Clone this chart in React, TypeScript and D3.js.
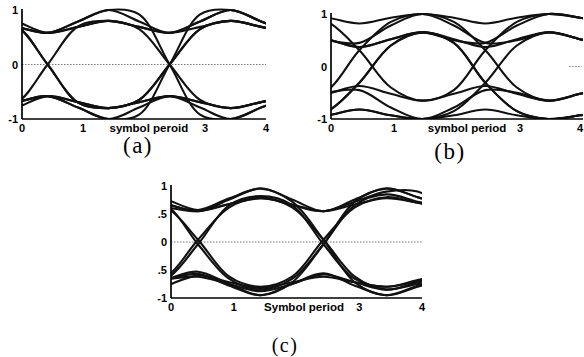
import * as d3 from 'd3'

// sample times (symbol periods) for each eye diagram
const timesA = [-0.58, -0.08, 0.42, 0.92, 1.42, 1.92, 2.42, 2.92, 3.42, 3.92, 4.42]
const timesB = [-0.55, -0.05, 0.45, 0.95, 1.45, 1.95, 2.45, 2.95, 3.45, 3.95, 4.45]
const timesC = [-0.57, -0.07, 0.43, 0.93, 1.43, 1.93, 2.43, 2.93, 3.43, 3.93, 4.43]

// traced amplitudes
const tracesA = [
  [0.8, 0.69, 0.58, 0.79, 1, 0.79, 0.58, 0.79, 1, 0.79, 0.58],
  [1, 0.79, 0.58, 0.69, 0.8, 0.69, 0.58, 0.69, 0.8, 0.69, 0.58],
  [0.8, 0.7, 0, -0.7, -0.8, -0.65, 0, 0.65, 0.8, 0.69, 0.58],
  [-0.8, -0.7, 0, 0.7, 0.8, 0.69, 0.58, 0.79, 1, 0.79, 0.58],
  [0.8, 0.69, 0.58, 0.79, 1, 0.92, 0, -0.92, -1, -0.79, -0.58],
  [-0.8, -0.69, -0.58, -0.79, -1, -0.92, 0, 0.92, 1, 0.79, 0.58],
  [-0.8, -0.69, -0.58, -0.79, -1, -0.79, -0.58, -0.79, -1, -0.79, -0.58],
  [-1, -0.79, -0.58, -0.69, -0.8, -0.69, -0.58, -0.69, -0.8, -0.69, -0.58],
  [0.8, 0.7, 0, -0.7, -0.8, -0.69, -0.58, -0.69, -0.8, -0.69, -0.58],
  [-0.8, -0.69, -0.58, -0.69, -0.8, -0.65, 0, 0.65, 0.8, 0.69, 0.58],
  [0.8, 0.69, 0.58, 0.69, 0.8, 0.65, 0, -0.65, -0.8, -0.69, -0.58],
]

const tracesB = [
  [1, 0.93, 0.82, 0.93, 1, 0.93, 0.82, 0.93, 1, 0.93, 0.82],
  [0.65, 0.52, 0.37, 0.52, 0.65, 0.5, 0.45, 0.78, 1, 0.93, 0.82],
  [1, 0.85, 0.31, -0.4, -0.65, -0.45, 0.31, 0.85, 1, 0.93, 0.82],
  [-0.65, -0.45, 0.31, 0.85, 1, 0.85, 0.31, -0.4, -0.65, -0.52, -0.37],
  [-1, -0.85, -0.31, 0.4, 0.65, 0.45, -0.31, -0.85, -1, -0.93, -0.82],
  [-1, -0.93, -0.82, -0.93, -1, -0.85, -0.31, 0.4, 0.65, 0.52, 0.37],
  [-0.65, -0.52, -0.37, -0.52, -0.65, -0.52, -0.37, -0.52, -0.65, -0.52, -0.37],
  [-1, -0.93, -0.82, -0.93, -1, -0.93, -0.82, -0.93, -1, -0.93, -0.82],
  [0.65, 0.5, 0.45, 0.78, 1, 0.78, 0.45, 0.5, 0.65, 0.52, 0.37],
  [0.65, 0.52, 0.37, 0.52, 0.65, 0.45, -0.31, -0.85, -1, -0.93, -0.82],
  [-0.65, -0.5, -0.45, -0.78, -1, -0.78, -0.45, -0.5, -0.65, -0.52, -0.37],
  [-1, -0.85, -0.31, 0.4, 0.65, 0.52, 0.37, 0.52, 0.65, 0.52, 0.37],
]

const tracesC = [
  [0.8, 0.68, 0.55, 0.76, 0.96, 0.76, 0.55, 0.76, 0.96, 0.8, 0.62],
  [0.95, 0.76, 0.57, 0.68, 0.78, 0.67, 0.55, 0.67, 0.78, 0.7, 0.6],
  [0.78, 0.62, 0.04, -0.62, -0.8, -0.62, 0.04, 0.62, 0.8, 0.7, 0.58],
  [0.8, 0.66, -0.04, -0.66, -0.85, -0.66, -0.04, 0.66, 0.85, 0.72, 0.6],
  [-0.78, -0.62, 0.04, 0.62, 0.78, 0.62, 0.04, -0.62, -0.85, -0.72, -0.6],
  [-0.8, -0.66, -0.04, 0.66, 0.82, 0.66, -0.04, -0.66, -0.8, -0.68, -0.55],
  [-0.8, -0.66, -0.53, -0.75, -0.95, -0.75, -0.56, -0.78, -0.95, -0.78, -0.6],
  [-0.95, -0.78, -0.6, -0.72, -0.82, -0.72, -0.62, -0.72, -0.8, -0.7, -0.55],
  [-0.7, -0.66, -0.62, -0.75, -0.88, -0.75, -0.58, -0.72, -0.85, -0.75, -0.62],
  [0.78, 0.67, 0.57, 0.78, 0.95, 0.72, 0.04, -0.72, -0.95, -0.8, -0.62],
  [-0.78, -0.67, -0.57, -0.78, -0.95, -0.72, -0.04, 0.72, 0.95, 0.8, 0.62],
  [0.7, 0.62, 0.55, 0.68, 0.8, 0.66, 0.55, 0.72, 0.9, 0.9, 0.55],
]

const xTickValues = [0, 1, 3, 4]
const xTickLabels = ['0', '1', '3', '4']
const yTicksAB = [1, 0, -1]
const yTickLabelsAB = ['1', '0', '-1']
const yTicksC = [1, 0.5, 0, -0.5, -1]
const yTickLabelsC = ['1', '.5', '0', '.5', '-1']
const xLabels = ['symbol peroid', 'symbol period', 'Symbol period']
const captions = ['(a)', '(b)', '(c)']

const layout = [
  { left: 22, right: 266, top: 10, bottom: 119, labelT: 2.08, capX: 138, capY: 145, capSize: 23, zero: [0, 4], lastTickShift: 0 },
  { left: 331, right: 583, top: 14, bottom: 119, labelT: 2.16, capX: 450, capY: 151, capSize: 23, zero: [3.78, 3.98], lastTickShift: -3 },
  { left: 171, right: 422, top: 186, bottom: 298, labelT: 2.12, capX: 285, capY: 345, capSize: 20, zero: [0, 4], lastTickShift: 0 },
]

const sans = '"Liberation Sans", Arial, sans-serif'

function EyePanel({ id, times, traces, yTicks, yLabels, xLabel, caption, box }: any) {
  const x = d3.scaleLinear().domain([0, 4]).range([box.left, box.right])
  const y = d3.scaleLinear().domain([-1, 1]).range([box.bottom, box.top])
  const line = d3.line<number>()
    .x((_, i) => x(times[i]))
    .y(d => y(d))
    .curve(d3.curveCatmullRom.alpha(0.5))

  return (
    <g>
      <defs>
        <clipPath id={`clip-${id}`}>
          <rect x={box.left} y={box.top - 4} width={box.right - box.left} height={box.bottom - box.top + 4} />
        </clipPath>
      </defs>
      {/* zero reference */}
      <line x1={x(box.zero[0])} x2={x(box.zero[1])} y1={y(0)} y2={y(0)}
        stroke="#666" strokeWidth={0.9} strokeDasharray="1.5,1.5" />
      <g clipPath={`url(#clip-${id})`}>
        {traces.map((t: number[], i: number) => (
          <path key={i} d={line(t) || ''} fill="none" stroke="#111" strokeWidth={2.1} />
        ))}
      </g>
      {/* axes */}
      <line x1={box.left} x2={box.left} y1={box.top - 1} y2={box.bottom} stroke="#000" strokeWidth={1.7} />
      <line x1={box.left} x2={box.right} y1={box.bottom} y2={box.bottom} stroke="#000" strokeWidth={1.7} />
      {yTicks.map((v: number, i: number) => (
        <text key={i} x={box.left - 4} y={y(v)} textAnchor="end" dominantBaseline="central"
          fontFamily={sans} fontWeight="bold" fontSize={11}>{yLabels[i]}</text>
      ))}
      {xTickValues.map((v, i) => (
        <text key={i} x={x(v) + (i === xTickValues.length - 1 ? box.lastTickShift : 0)} y={box.bottom + 9}
          textAnchor="middle" dominantBaseline="central"
          fontFamily={sans} fontWeight="bold" fontSize={11}>{xTickLabels[i]}</text>
      ))}
      <text x={x(box.labelT)} y={box.bottom + 8.5} textAnchor="middle" dominantBaseline="central"
        fontFamily={sans} fontWeight="bold" fontSize={11.5}>{xLabel}</text>
      <text x={box.capX} y={box.capY} textAnchor="middle" dominantBaseline="central"
        fontFamily='"Liberation Serif", "Times New Roman", serif' fontSize={box.capSize} letterSpacing={1.5}>{caption}</text>
    </g>
  )
}

export default function App() {
  const data = [
    { times: timesA, traces: tracesA, yTicks: yTicksAB, yLabels: yTickLabelsAB },
    { times: timesB, traces: tracesB, yTicks: yTicksAB, yLabels: yTickLabelsAB },
    { times: timesC, traces: tracesC, yTicks: yTicksC, yLabels: yTickLabelsC },
  ]
  return (
    <svg width={584} height={357} style={{ position: 'absolute', left: 0, top: 0, background: '#fff' }}>
      {data.map((d, i) => (
        <EyePanel key={i} id={captions[i].replace(/[()]/g, '')} {...d}
          xLabel={xLabels[i]} caption={captions[i]} box={layout[i]} />
      ))}
    </svg>
  )
}
